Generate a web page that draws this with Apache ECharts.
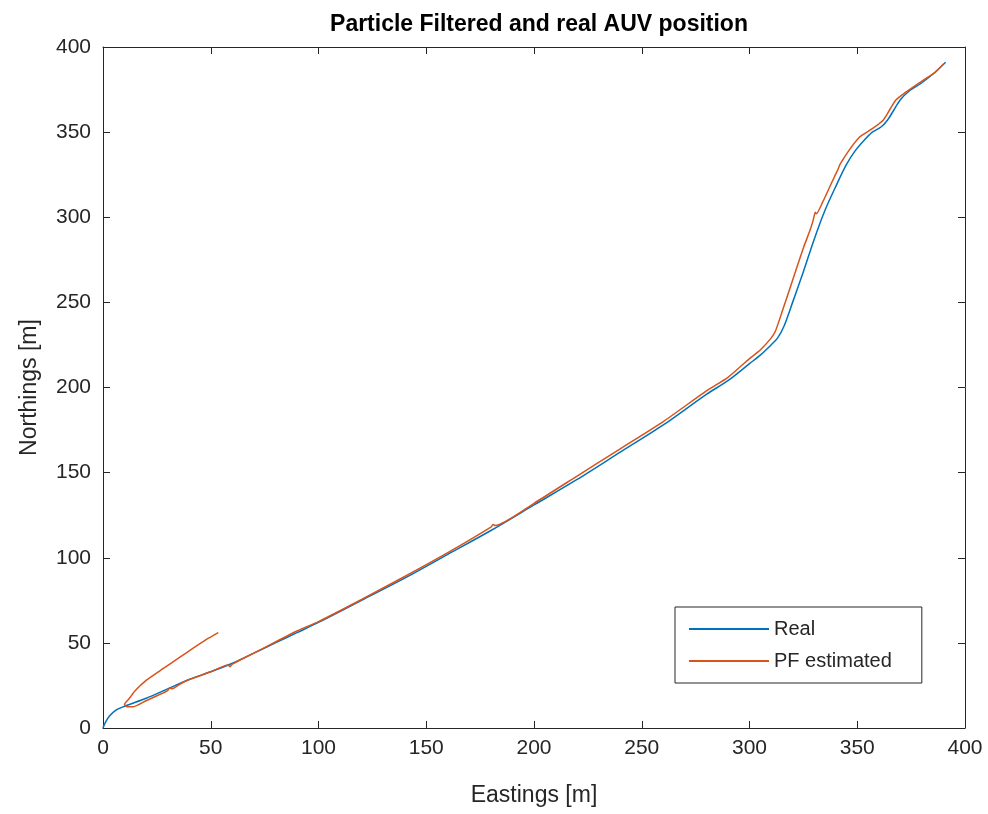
<!DOCTYPE html>
<html>
<head>
<meta charset="utf-8">
<script src="https://cdn.jsdelivr.net/npm/echarts@6/dist/echarts.min.js"></script>
<style>
  html, body { margin: 0; padding: 0; background: #fff; }
  #chart { width: 988px; height: 814px; }
</style>
</head>
<body>
<div id="chart"></div>
<script>
// real AUV track
const realX = [0, 1, 3, 6, 10, 20, 30, 40, 50, 60, 70, 80, 90, 100, 120, 140, 160, 180, 200, 220, 240, 260, 280, 290, 300, 305, 310, 313, 316, 320, 325, 330, 335, 340, 345, 349, 353, 357, 361, 364, 367, 370, 374, 380, 386, 391]
const realY = [0, 3, 7, 10.5, 12.8, 17.5, 23, 28.5, 33, 38, 44, 50, 56, 62, 75, 88, 102, 116, 131, 146, 162, 178, 196, 204, 214, 219, 225, 229, 236, 250, 268, 287, 304, 318, 331, 339, 345, 350, 353, 357, 363, 369, 374, 379, 385, 391]
// particle filter estimate
const pfX = [53.5, 48, 42, 35, 28, 20, 15, 12, 10, 11, 14, 20, 26, 30, 31, 32, 36, 40, 50, 58, 59, 60, 70, 80, 90, 100, 120, 140, 160, 180, 181, 182, 200, 220, 240, 260, 280, 290, 300, 305, 310, 312, 315, 320, 325, 328, 329.5, 330.5, 331, 334, 338, 341, 342, 346, 351, 357, 362, 365, 368, 372, 380, 386, 390]
const pfY = [56, 52, 47, 41, 35, 28, 22, 17, 14, 12.5, 12.5, 16, 19.5, 22, 23.5, 23, 26, 28.5, 33, 37, 36, 37.5, 44, 50.5, 57, 62.5, 75.5, 89, 103, 118, 119.5, 119, 132, 148, 164, 180, 198, 206, 217, 222, 229, 233, 244, 263, 282, 292, 298, 303, 302, 309, 320, 328, 331, 339, 347, 352, 357, 363, 369, 373, 380, 385, 390]

const textColor = '#262626'
const chart = echarts.init(document.getElementById('chart'))

const baseAxis = {
  min: 0, max: 400, interval: 50,
  axisLine: { show: true, onZero: false, lineStyle: { color: textColor, width: 1 } },
  axisTick: { show: true, inside: true, length: 7, lineStyle: { color: textColor } },
  splitLine: { show: false }
}

chart.setOption({
  animation: false,
  backgroundColor: '#fff',
  title: {
    text: 'Particle Filtered and real AUV position',
    left: 534, top: 8, textAlign: 'center',
    textStyle: { fontFamily: 'Liberation Sans', fontWeight: 'bold', fontSize: 23, color: '#000' }
  },
  grid: { left: 103, right: 23, top: 47, bottom: 86 },
  legend: {
    orient: 'vertical',
    left: 675, top: 607,
    padding: [12, 30, 12, 14],
    itemGap: 12,
    itemWidth: 80, itemHeight: 2,
    icon: 'rect',
    backgroundColor: '#fff',
    borderColor: textColor, borderWidth: 1,
    textStyle: { fontFamily: 'Liberation Sans', fontSize: 20, color: textColor },
    data: ['Real', 'PF estimated']
  },
  xAxis: [
    Object.assign({}, baseAxis, {
      type: 'value', position: 'bottom',
      name: 'Eastings [m]', nameLocation: 'middle', nameGap: 56,
      nameTextStyle: { fontFamily: 'Liberation Sans', fontSize: 23, color: textColor },
      axisLabel: { fontFamily: 'Liberation Sans', fontSize: 21, color: textColor, margin: 10 }
    }),
    Object.assign({}, baseAxis, { type: 'value', position: 'top', axisLabel: { show: false } })
  ],
  yAxis: [
    Object.assign({}, baseAxis, {
      type: 'value', position: 'left',
      name: 'Northings [m]', nameLocation: 'middle', nameGap: 62,
      nameTextStyle: { fontFamily: 'Liberation Sans', fontSize: 23, color: textColor },
      axisLabel: { fontFamily: 'Liberation Sans', fontSize: 21, color: textColor, margin: 12 }
    }),
    Object.assign({}, baseAxis, { type: 'value', position: 'right', axisLabel: { show: false } })
  ],
  series: [
    {
      name: 'Real', type: 'line', symbol: 'none', smooth: 0.3,
      xAxisIndex: 0, yAxisIndex: 0,
      itemStyle: { color: '#0072BD' },
      lineStyle: { color: '#0072BD', width: 1.5 },
      data: realX.map((x, i) => [x, realY[i]])
    },
    {
      name: 'PF estimated', type: 'line', symbol: 'none', smooth: 0.2,
      xAxisIndex: 0, yAxisIndex: 0,
      itemStyle: { color: '#D95319' },
      lineStyle: { color: '#D95319', width: 1.5 },
      data: pfX.map((x, i) => [x, pfY[i]])
    }
  ]
})
</script>
</body>
</html>
